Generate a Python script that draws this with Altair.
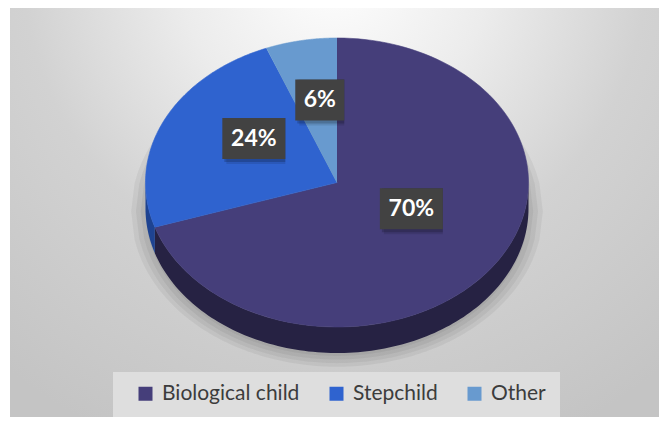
import altair as alt
import pandas as pd

# ---- data ----
categories = ["Biological child", "Stepchild", "Other"]
values = [70, 24, 6]
top_colors = ["#453E7A", "#2F63CF", "#689ACF"]
side_colors = ["#262243", "#1E4391", "#44699A"]

# ---- layout (pixels inside the plot area) ----
W, H = 651, 409
CX, CY = 329.0, 174.5
RX, RY = 191.5, 144.5
DEPTH = 26 / RY
N = 120

xdom = [-CX / RX, (W - CX) / RX]
ydom = [(CY - H) / RY, CY / RY]
xs = alt.Scale(domain=xdom, nice=False, zero=False)
ys = alt.Scale(domain=ydom, nice=False, zero=False)

df = pd.DataFrame({
    "category": categories,
    "value": values,
    "order": list(range(len(categories))),
    "side": side_colors,
})

base = (
    alt.Chart(df)
    .transform_joinaggregate(total="sum(value)")
    .transform_window(cum="sum(value)", sort=[alt.SortField("order")], frame=[None, 0])
    .transform_calculate(
        a0="2*PI*(datum.cum - datum.value)/datum.total",
        a1="2*PI*datum.cum/datum.total",
    )
)

# background with radial gradient
bg = alt.Chart(pd.DataFrame({"k": [0]})).mark_rect(
    fill=alt.RadialGradient(
        gradient="radial",
        stops=[
            alt.GradientStop(color="#ffffff", offset=0),
            alt.GradientStop(color="#ececec", offset=0.3),
            alt.GradientStop(color="#d2d2d2", offset=0.6),
            alt.GradientStop(color="#c4c4c4", offset=1),
        ],
        x1=0.5, y1=0.12, r1=0, x2=0.5, y2=0.12, r2=0.8,
    )
).encode(x=alt.value(2), x2=alt.value(W), y=alt.value(0), y2=alt.value(H))

legend_box = alt.Chart(pd.DataFrame({"k": [0]})).mark_rect(fill="#dedede").encode(
    x=alt.value(105), x2=alt.value(552), y=alt.value(364), y2=alt.value(409)
)

# soft shadow under the pie
shadow = (
    alt.Chart(pd.DataFrame({"k": [1.0, 1.025, 1.05, 1.075], "op": [0.05, 0.05, 0.05, 0.05]}))
    .transform_calculate(t=f"sequence(0, {N + 1})")
    .transform_flatten(["t"])
    .transform_calculate(
        sx=f"datum.k * (-1 + 2*datum.t/{N})",
        sy_top=f"-0.2 + datum.k * sqrt(max(0, 1 - pow(-1 + 2*datum.t/{N}, 2)))",
        sy_bot=f"-0.2 - datum.k * sqrt(max(0, 1 - pow(-1 + 2*datum.t/{N}, 2)))",
    )
    .mark_area(color="#000000")
    .encode(
        x=alt.X("sx:Q", scale=xs, axis=None),
        y=alt.Y("sy_top:Q", scale=ys, axis=None, stack=None),
        y2="sy_bot:Q",
        detail="k:N",
        opacity=alt.Opacity("op:Q", scale=None),
    )
)

# visible side wall of the 3D pie
side = (
    base.transform_calculate(s0="max(datum.a0, PI/2)", s1="min(datum.a1, 3*PI/2)")
    .transform_filter("datum.s1 > datum.s0")
    .transform_calculate(step=f"sequence(0, {N + 1})")
    .transform_flatten(["step"])
    .transform_calculate(
        ang=f"datum.s0 + (datum.s1 - datum.s0)*datum.step/{N}",
        px="sin(datum.ang)",
        py="cos(datum.ang)",
        py2=f"cos(datum.ang) - {DEPTH}",
    )
    .mark_area()
    .encode(
        x=alt.X("px:Q", scale=xs, axis=None),
        y=alt.Y("py:Q", scale=ys, axis=None, stack=None),
        y2="py2:Q",
        color=alt.Color("side:N", scale=None, legend=None),
        detail="category:N",
    )
)

# top face of each slice
top = (
    base.transform_calculate(step=f"sequence(0, {N + 2})")
    .transform_flatten(["step"])
    .transform_calculate(
        ang=f"datum.a0 + (datum.a1 - datum.a0)*(datum.step - 1)/{N}",
        px="datum.step == 0 ? 0 : sin(datum.ang)",
        py="datum.step == 0 ? 0 : cos(datum.ang)",
    )
    .mark_line(filled=True, strokeWidth=0.6)
    .encode(
        x=alt.X("px:Q", scale=xs, axis=None),
        y=alt.Y("py:Q", scale=ys, axis=None),
        color=alt.Color(
            "category:N",
            scale=alt.Scale(domain=categories, range=top_colors),
            legend=alt.Legend(
                title=None, orient="none", legendX=127, legendY=375,
                direction="horizontal", symbolType="square", symbolSize=196,
                symbolStrokeWidth=0, labelFont="Lato", labelFontSize=21,
                labelColor="#3c3c3c", labelOffset=6, columnPadding=26, padding=0,
            ),
        ),
        stroke=alt.Stroke("category:N", scale=alt.Scale(domain=categories, range=top_colors), legend=None),
        order=alt.Order("step:Q"),
    )
)

labels = base.transform_calculate(
    mid="(datum.a0 + datum.a1)/2",
    lx="0.48*sin(datum.mid)",
    ly="0.48*cos(datum.mid) + 0.1",
    label="format(datum.value/datum.total, '.0%')",
).transform_calculate(
    bx0=f"datum.lx - (14*length(datum.label) + 21)/2/{RX}",
    bx1=f"datum.lx + (14*length(datum.label) + 21)/2/{RX}",
    by0=f"datum.ly - 20.5/{RY}",
    by1=f"datum.ly + 20.5/{RY}",
)

box_enc = dict(
    x=alt.X("bx0:Q", scale=xs, axis=None),
    x2="bx1:Q",
    y=alt.Y("by0:Q", scale=ys, axis=None),
    y2="by1:Q",
)
box_sh1 = labels.mark_rect(color="#000000", opacity=0.18, xOffset=2, yOffset=3).encode(**box_enc)
box_sh2 = labels.mark_rect(color="#000000", opacity=0.1, xOffset=4, yOffset=5).encode(**box_enc)
box = labels.mark_rect(color="#424242").encode(**box_enc)
text = labels.mark_text(
    font="Lato", fontSize=23, fontWeight="bold", color="#ffffff", baseline="middle", align="center"
).encode(
    x=alt.X("lx:Q", scale=xs, axis=None),
    y=alt.Y("ly:Q", scale=ys, axis=None),
    text="label:N",
)

chart = (
    alt.layer(bg, legend_box, shadow, side, top, box_sh2, box_sh1, box, text)
    .resolve_scale(color="independent")
    .properties(width=W, height=H, padding=0, autosize=alt.AutoSizeParams(type="none"),
                background="white")
    .configure_view(stroke=None)
)

chart.save("out.html", embed_options={"renderer": "svg", "actions": False})
